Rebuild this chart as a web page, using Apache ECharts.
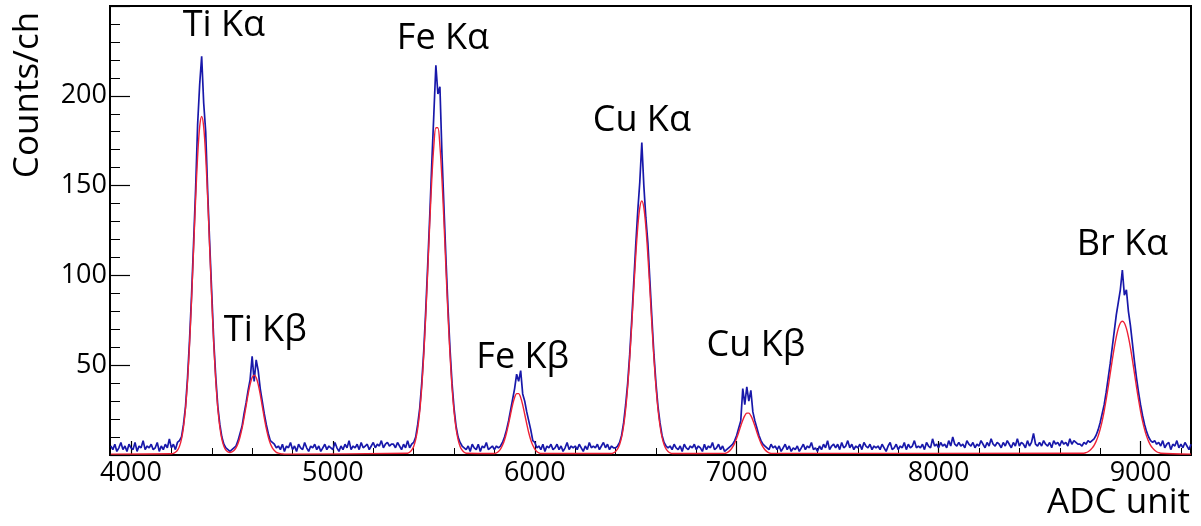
<!DOCTYPE html>
<html>
<head>
<meta charset="utf-8">
<script src="https://cdn.jsdelivr.net/npm/echarts@6/dist/echarts.min.js"></script>
<style>
html, body { margin: 0; padding: 0; background: #fff; }
#main { width: 1201px; height: 526px; }
</style>
</head>
<body>
<div id="main"></div>
<script>
// measured spectrum: counts per channel, channels 10 ADC wide, first at 3900
var binStart = 3900;
var binWidth = 10;
var counts = [
    5, 3, 6, 2, 4, 7, 3, 5, 2, 6,          // 3900
    4, 3, 7, 2, 5, 4, 8, 3, 5, 4,          // 4000
    6, 3, 4, 7, 2, 5, 3, 6, 4, 9,          // 4100
    4, 6, 3, 7, 8, 10, 17, 27, 43, 64,     // 4200
    89, 118, 148, 184, 206, 222, 196, 180, 146, 117,
    90, 63, 43, 27, 17, 10, 6, 4, 3, 2,    // 4400
    3, 4, 5, 8, 12, 16, 23, 29, 36, 42,
    55, 41, 53, 47, 37, 30, 23, 17, 12, 8, // 4600
    7, 6, 4, 5, 3, 6, 2, 5, 4, 7,
    3, 5, 2, 6, 4, 3, 7, 4, 2, 5,          // 4800
    4, 6, 3, 5, 2, 4, 6, 3, 5, 4,
    3, 7, 4, 2, 5, 3, 6, 4, 8, 3,          // 5000
    5, 4, 6, 3, 7, 4, 5, 6, 3, 5,
    7, 4, 6, 5, 8, 4, 6, 7, 5, 6,          // 5200
    6, 4, 7, 5, 3, 6, 4, 8, 4, 6,
    7, 10, 17, 26, 40, 58, 81, 107, 134, 163, // 5400
    190, 217, 201, 205, 168, 138, 109, 82, 59, 40,
    26, 16, 10, 7, 5, 4, 3, 5, 2, 6,       // 5600
    4, 3, 6, 2, 5, 4, 7, 3, 4, 5,
    3, 5, 4, 5, 7, 10, 14, 19, 25, 31,     // 5800
    37, 45, 41, 47, 34, 30, 24, 19, 14, 8,
    7, 4, 5, 3, 6, 2, 5, 4, 6, 3,          // 6000
    4, 6, 3, 5, 2, 4, 7, 3, 5, 4,
    5, 3, 6, 4, 2, 5, 3, 7, 4, 5,          // 6200
    4, 6, 3, 5, 7, 4, 6, 3, 5, 4,
    4, 5, 7, 11, 18, 28, 40, 56, 75, 96,   // 6400
    117, 136, 152, 174, 150, 132, 118, 97, 76, 56,
    40, 27, 18, 11, 7, 5, 4, 5, 3, 6,      // 6600
    4, 3, 5, 2, 6, 4, 3, 5, 4, 6,
    3, 5, 4, 2, 6, 3, 5, 4, 7, 3,          // 6800
    4, 6, 3, 5, 2, 3, 4, 5, 6, 8,
    11, 15, 19, 37, 28, 38, 30, 36, 24, 19, // 7000
    15, 11, 8, 6, 5, 4, 3, 6, 4, 5,
    3, 5, 2, 4, 6, 3, 5, 2, 4, 3,          // 7200
    5, 2, 4, 6, 3, 5, 4, 7, 3, 4,
    2, 5, 3, 6, 4, 8, 3, 5, 6, 4,          // 7400
    6, 3, 7, 4, 5, 8, 4, 6, 3, 5,
    4, 6, 3, 7, 5, 4, 6, 3, 5, 4,          // 7600
    5, 3, 6, 4, 2, 5, 7, 3, 4, 6,
    3, 5, 4, 7, 3, 6, 4, 5, 8, 4,          // 7800
    5, 4, 6, 3, 7, 5, 4, 9, 5, 6,
    4, 7, 5, 6, 4, 8, 5, 10, 6, 5,         // 8000
    7, 5, 6, 4, 8, 6, 5, 7, 4, 6,
    5, 8, 6, 4, 7, 5, 9, 6, 5, 7,          // 8200
    6, 4, 7, 5, 8, 6, 4, 7, 5, 9,
    5, 7, 6, 4, 8, 5, 7, 12, 6, 5,         // 8400
    7, 5, 8, 6, 5, 7, 4, 8, 6, 7,
    5, 8, 6, 7, 5, 9, 6, 8, 7, 6,          // 8600
    6, 5, 7, 6, 8, 7, 8, 9, 11, 14,
    18, 23, 28, 35, 43, 51, 60, 69, 78, 85, // 8800
    92, 103, 89, 92, 80, 72, 62, 52, 43, 35,
    28, 22, 17, 13, 10, 8, 7, 8, 6, 7,     // 9000
    5, 8, 4, 6, 7, 3, 6, 5, 8, 4,
    6, 4, 7, 5, 3, 6                       // 9200
];

// fitted curve: level between peaks, and one window per peak group (every 10 ADC)
var fitBase = 0.5;
var fitStarts = [4200, 5370, 5800, 6380, 6940, 8720];
var fitValues = [
    [0.7, 0.9, 1.5, 2.6, 4.8, 8.8, 15.5, 25.9, 41.1, 61.6,
     86.6, 114.6, 142.4, 166.3, 182.7, 188.5, 182.7, 166.3, 142.4, 114.6,
     86.6, 61.6, 41.1, 25.9, 15.5, 8.8, 4.8, 2.7, 1.7, 1.4,
     1.7, 2.5, 4.0, 6.4, 10, 14.8, 20.7, 27.2, 33.7, 39.3,
     43.1, 44.5, 43.1, 39.3, 33.7, 27.2, 20.7, 14.8, 10, 6.4,
     4.0, 2.5, 1.5, 1.0, 0.7, 0.6, 0.5],
    [1.0, 1.5, 2.7, 4.8, 8.6, 14.7, 24.1, 37.6, 55.8, 78.1,
     103.5, 129.9, 153.9, 172.2, 182.2, 182.2, 172.2, 153.9, 129.9, 103.5,
     78.1, 55.8, 37.6, 24.1, 14.7, 8.6, 4.8, 2.7, 1.5, 1.0],
    [0.85, 1.25, 2.0, 3.3, 5.4, 8.4, 12.4, 17.4, 22.7, 27.9,
     32.0, 34.2, 34.2, 32.0, 27.9, 22.7, 17.4, 12.4, 8.4, 5.4,
     3.3, 2.0, 1.25, 0.85],
    [0.8, 1.2, 2.0, 3.4, 5.9, 9.9, 16.3, 25.5, 38, 53.8,
     72.3, 92, 111, 127, 137.7, 141.5, 137.7, 127, 111, 92,
     72.3, 53.8, 38, 25.5, 16.3, 9.9, 5.9, 3.4, 2.0, 1.2, 0.8],
    [0.9, 1.2, 1.9, 2.9, 4.5, 6.6, 9.4, 12.7, 16.2, 19.4,
     21.9, 23.3, 23.3, 21.9, 19.4, 16.2, 12.7, 9.4, 6.6, 4.5,
     2.9, 1.9, 1.2, 0.9],
    [1.0, 1.3, 1.8, 2.6, 3.8, 5.4, 7.6, 10.5, 14.3, 18.9,
     24.5, 30.9, 37.9, 45.4, 52.8, 59.8, 65.8, 70.5, 73.5, 74.5,
     73.5, 70.5, 65.8, 59.8, 52.8, 45.4, 37.9, 30.9, 24.5, 18.9,
     14.3, 10.5, 7.6, 5.4, 3.8, 2.6, 1.8, 1.3, 1.0]
];

var peakNames = ['Ti Kα', 'Ti Kβ', 'Fe Kα', 'Fe Kβ', 'Cu Kα', 'Cu Kβ', 'Br Kα'];
var peakLabelX = [4460, 4665, 5545, 5940, 6530, 7095, 8910];
var peakLabelY = [239, 69, 232, 54, 186, 61, 117];

var xMin = 3896, xMax = 9250;
var xMajorTicks = [4000, 5000, 6000, 7000, 8000, 9000];
var xMinorTicks = [4200, 4400, 4600, 4800, 5200, 5400, 5600, 5800, 6200, 6400,
    6600, 6800, 7200, 7400, 7600, 7800, 8200, 8400, 8600, 8800, 9200];

var FONT = '"Open Sans", "DejaVu Sans", sans-serif';

var histData = counts.map(function (c, i) {
    return [binStart + i * binWidth, c];
});

var fitData = [[binStart, fitBase]];
fitStarts.forEach(function (s, k) {
    fitValues[k].forEach(function (v, i) {
        fitData.push([s + i * binWidth, v]);
    });
});
fitData.push([xMax, fitBase]);

var labelData = peakNames.map(function (n, i) {
    return { name: n, value: [peakLabelX[i], peakLabelY[i]] };
});

var chart = echarts.init(document.getElementById('main'));
chart.setOption({
    animation: false,
    grid: {
        left: 110, right: 10, top: 6, bottom: 71,
        show: true, borderColor: '#000', borderWidth: 2
    },
    xAxis: [{
        type: 'value', min: xMin, max: xMax,
        axisLine: { onZero: false, lineStyle: { color: '#000', width: 2 } },
        axisTick: { inside: true, length: 14, customValues: xMajorTicks, lineStyle: { color: '#000', width: 1.2 } },
        axisLabel: {
            customValues: xMajorTicks, fontSize: 27, color: '#000', fontFamily: FONT, margin: 5,
            formatter: function (v) { return String(v); }
        },
        splitLine: { show: false }
    }, {
        type: 'value', min: xMin, max: xMax, position: 'bottom',
        axisLine: { show: false },
        axisTick: { inside: true, length: 7, customValues: xMinorTicks, lineStyle: { color: '#000', width: 1 } },
        axisLabel: { show: false },
        splitLine: { show: false }
    }],
    yAxis: {
        type: 'value', min: 0, max: 250, interval: 50,
        axisLine: { show: true, lineStyle: { color: '#000', width: 2 } },
        axisTick: { inside: true, length: 20, lineStyle: { color: '#000', width: 1.2 } },
        minorTick: { show: true, splitNumber: 5, length: 10, lineStyle: { color: '#000', width: 1 } },
        axisLabel: { showMinLabel: false, showMaxLabel: false, fontSize: 27, color: '#000', fontFamily: FONT, margin: 3 },
        splitLine: { show: false }
    },
    series: [{
        type: 'line',
        data: histData,
        showSymbol: false,
        lineStyle: { color: '#1818aa', width: 1.7 },
        z: 2
    }, {
        type: 'line',
        data: fitData,
        showSymbol: false,
        smooth: 0.3,
        lineStyle: { color: '#ee2236', width: 1.4 },
        z: 3
    }, {
        type: 'scatter',
        data: labelData,
        symbolSize: 0,
        itemStyle: { opacity: 1 },
        label: {
            show: true, position: 'inside', formatter: '{b}',
            fontSize: 36, color: '#000', opacity: 1, fontFamily: FONT
        },
        z: 4
    }],
    graphic: [{
        type: 'text', x: 28, y: 95, rotation: Math.PI / 2,
        style: { text: 'Counts/ch', font: '35px ' + FONT, fill: '#000', align: 'center', verticalAlign: 'middle' }
    }, {
        type: 'text', x: 1190, y: 503,
        style: { text: 'ADC unit', font: '35px ' + FONT, fill: '#000', align: 'right', verticalAlign: 'middle' }
    }]
});
</script>
</body>
</html>
